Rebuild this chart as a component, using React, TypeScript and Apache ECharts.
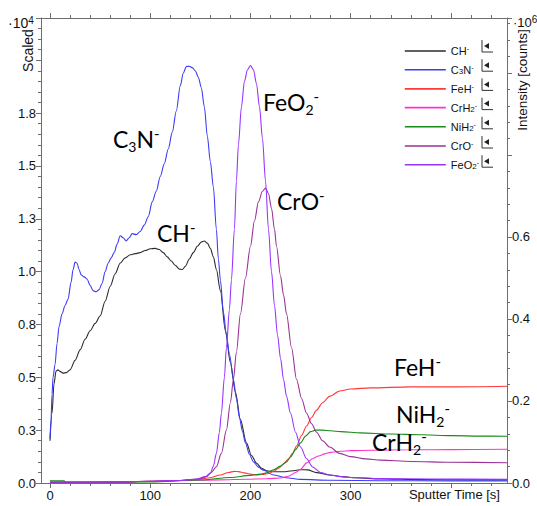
import React, { useEffect, useRef } from 'react';
import * as echarts from 'echarts';

// ---------- DATA (time in s, value in 10^4 on the scaled axis) ----------
const seriesNames = ['CH-', 'C3N-', 'FeH-', 'CrH2-', 'NiH2-', 'CrO-', 'FeO2-'];
const seriesColors = ['#2b2b2b', '#3c3cf5', '#ff3838', '#ff33cc', '#1a8a1a', '#993399', '#9933ff'];

const chData: [number, number][] = [
  [0, 0.2], [2, 0.33], [4, 0.47], [6, 0.53], [8, 0.535], [10, 0.528], [13, 0.52], [16, 0.522], [20, 0.535],
  [25, 0.58], [30, 0.63], [35, 0.68], [40, 0.72], [45, 0.755], [50, 0.79], [55, 0.86], [60, 0.93], [65, 0.99],
  [70, 1.04], [75, 1.065], [80, 1.08], [85, 1.085], [90, 1.09], [95, 1.1], [100, 1.108], [105, 1.11], [109, 1.105],
  [113, 1.09], [117, 1.07], [121, 1.05], [125, 1.03], [129, 1.012], [132, 1.01], [135, 1.025], [139, 1.06],
  [143, 1.09], [147, 1.12], [151, 1.14], [154, 1.145], [157, 1.135], [160, 1.11], [163, 1.07], [166, 1.01],
  [170, 0.91], [175, 0.72], [180, 0.57], [185, 0.43], [190, 0.3], [196, 0.19], [201, 0.13], [206, 0.094],
  [211, 0.07], [216, 0.058], [225, 0.053], [233, 0.053], [242, 0.058], [250, 0.063], [257, 0.062], [266, 0.049],
  [279, 0.038], [292, 0.03], [305, 0.025], [330, 0.019], [370, 0.016], [420, 0.015], [456, 0.015],
];

const c3nData: [number, number][] = [
  [0, 0.21], [1, 0.3], [2, 0.42], [3, 0.5], [5, 0.56], [7, 0.66], [9, 0.74], [12, 0.8], [15, 0.84], [18, 0.87],
  [21, 0.95], [23, 1.01], [25, 1.045], [27, 1.04], [29, 1.01], [31, 0.985], [34, 0.975], [37, 0.965], [40, 0.935],
  [43, 0.91], [46, 0.905], [49, 0.915], [52, 0.945], [55, 1.0], [58, 1.04], [61, 1.065], [64, 1.09], [67, 1.13],
  [70, 1.17], [73, 1.16], [76, 1.145], [79, 1.16], [82, 1.18], [86, 1.175], [90, 1.19], [94, 1.22], [98, 1.26],
  [102, 1.33], [106, 1.38], [110, 1.45], [114, 1.51], [118, 1.58], [122, 1.66], [126, 1.76], [130, 1.88],
  [133, 1.94], [136, 1.97], [139, 1.972], [142, 1.965], [145, 1.95], [148, 1.92], [151, 1.87], [154, 1.78],
  [157, 1.64], [160, 1.52], [163, 1.4], [166, 1.2], [168, 1.06], [170, 0.96], [173, 0.81], [176, 0.7],
  [179, 0.61], [183, 0.49], [186, 0.4], [189, 0.31], [192, 0.245], [195, 0.19], [199, 0.135], [203, 0.1],
  [208, 0.075], [213, 0.06], [223, 0.038], [235, 0.025], [250, 0.017], [280, 0.013], [330, 0.011], [400, 0.01],
  [456, 0.01],
];

const fehData: [number, number][] = [
  [0, 0.003], [60, 0.004], [100, 0.008], [130, 0.012], [145, 0.016], [160, 0.025], [170, 0.038], [178, 0.05],
  [184, 0.055], [188, 0.054], [194, 0.048], [200, 0.042], [206, 0.038], [212, 0.04], [218, 0.045], [223, 0.055],
  [228, 0.07], [233, 0.09], [238, 0.115], [242, 0.14], [246, 0.175], [251, 0.225], [256, 0.27], [261, 0.31],
  [266, 0.345], [272, 0.38], [279, 0.41], [289, 0.435], [300, 0.445], [320, 0.45], [360, 0.455], [400, 0.455],
  [456, 0.458],
];

const crh2Data: [number, number][] = [
  [0, 0.003], [70, 0.004], [130, 0.012], [170, 0.015], [196, 0.018], [216, 0.02], [230, 0.024], [238, 0.032],
  [245, 0.05], [250, 0.065], [256, 0.095], [262, 0.115], [268, 0.128], [274, 0.138], [280, 0.145], [290, 0.15],
  [300, 0.153], [320, 0.155], [360, 0.157], [400, 0.158], [456, 0.16],
];

const nih2Data: [number, number][] = [
  [0, 0.01], [14, 0.01], [16, 0.003], [100, 0.005], [150, 0.014], [180, 0.026], [200, 0.036], [210, 0.042],
  [216, 0.048], [223, 0.062], [230, 0.08], [236, 0.1], [240, 0.123], [245, 0.158], [250, 0.19], [255, 0.222],
  [260, 0.243], [265, 0.25], [272, 0.25], [280, 0.247], [290, 0.243], [310, 0.237], [340, 0.232], [370, 0.228],
  [400, 0.224], [430, 0.222], [456, 0.221],
];

const croData: [number, number][] = [
  [0, 0.003], [70, 0.004], [100, 0.008], [130, 0.012], [150, 0.02], [156, 0.03], [161, 0.05], [166, 0.077],
  [171, 0.14], [176, 0.25], [180, 0.38], [183, 0.49], [186, 0.62], [190, 0.8], [195, 0.97], [200, 1.12],
  [204, 1.24], [208, 1.33], [212, 1.38], [215, 1.395], [218, 1.37], [221, 1.3], [224, 1.2], [226, 1.12],
  [230, 0.98], [233, 0.89], [236, 0.8], [241, 0.64], [246, 0.49], [251, 0.4], [256, 0.33], [261, 0.28],
  [266, 0.24], [272, 0.2], [279, 0.17], [289, 0.14], [300, 0.125], [315, 0.114], [330, 0.108], [360, 0.102],
  [400, 0.098], [456, 0.096],
];

const feo2Data: [number, number][] = [
  [0, 0.005], [60, 0.005], [100, 0.008], [130, 0.012], [145, 0.018], [155, 0.03], [160, 0.047], [163, 0.08],
  [166, 0.14], [169, 0.24], [171, 0.33], [174, 0.5], [176, 0.64], [179, 0.82], [181, 0.96], [184, 1.2],
  [186, 1.43], [188, 1.6], [191, 1.78], [194, 1.9], [197, 1.955], [200, 1.975], [203, 1.955], [206, 1.89],
  [209, 1.78], [212, 1.63], [215, 1.43], [218, 1.2], [221, 1.0], [224, 0.84], [227, 0.7], [230, 0.59],
  [233, 0.49], [236, 0.41], [240, 0.33], [245, 0.24], [250, 0.17], [256, 0.115], [262, 0.076], [270, 0.05],
  [279, 0.038], [290, 0.03], [300, 0.026], [330, 0.021], [380, 0.019], [456, 0.018],
];

const allData = [chData, c3nData, fehData, crh2Data, nih2Data, croData, feo2Data];

// axes
const xMin = -9;
const xMax = 456;
const xMajorTicks = [0, 100, 200, 300, 400];
const xTickLabels = [0, 100, 200, 300];
const xMinorTicks = [20, 40, 60, 80, 120, 140, 160, 180, 220, 240, 260, 280, 320, 340, 360, 380, 420, 440];
const leftMax = 2.2;
const leftInterval = 0.25;
const leftLabelMax = 1.75;
const rightMax = 1.134;
const rightInterval = 0.2;
const rightLabelMax = 0.6;

// legend rich labels: [base, subscript, after subscript]
const legendParts: Record<string, [string, string, string]> = {
  'CH-': ['CH', '', ''],
  'C3N-': ['C', '3', 'N'],
  'FeH-': ['FeH', '', ''],
  'CrH2-': ['CrH', '2', ''],
  'NiH2-': ['NiH', '2', ''],
  'CrO-': ['CrO', '', ''],
  'FeO2-': ['FeO', '2', ''],
};

// in-plot annotations: main, subscript, text after subscript
const annotations = [
  { parts: ['C', '3', 'N'], x: 113, y: 139 },
  { parts: ['FeO', '2', ''], x: 263, y: 102 },
  { parts: ['CrO', '', ''], x: 277, y: 201 },
  { parts: ['CH', '', ''], x: 157, y: 233 },
  { parts: ['FeH', '', ''], x: 394, y: 367 },
  { parts: ['NiH', '2', ''], x: 396, y: 414 },
  { parts: ['CrH', '2', ''], x: 372, y: 442 },
];

const AXIS_COLOR = '#6e6e6e';
const LABEL_FONT = 'Liberation Sans, Arial, sans-serif';
const ANN_FONT = 'Lato, Open Sans, sans-serif';

export default function App() {
  const ref = useRef<HTMLDivElement>(null);

  useEffect(() => {
    if (!ref.current) return;
    const chart = echarts.init(ref.current, undefined, { renderer: 'svg' });

    const axisLine = { show: true, onZero: false, lineStyle: { color: AXIS_COLOR, width: 1 } };
    const tickStyle = { color: AXIS_COLOR, width: 1 };
    const labelStyle = { fontFamily: LABEL_FONT, fontSize: 13, color: '#111' };

    const fmt = (interval: number, maxLabel: number) => (v: number) => {
      const k = v / interval;
      return Math.abs(k - Math.round(k)) < 1e-6 && v <= maxLabel + 1e-6 ? v.toFixed(1) : '';
    };

    const xBase = { type: 'value' as const, min: xMin, max: xMax, splitLine: { show: false } };

    const legendTop = 40;
    const legendPitch = 19.2;
    const legendItemH = 12;

    const graphics: any[] = [];
    annotations.forEach((a) => {
      const [m, s, after] = a.parts;
      let text = `{m|${m}}`;
      if (s) text += `{s|${s}}`;
      if (after) text += `{m|${after}}`;
      text += `{p|-}`;
      graphics.push({
        type: 'text',
        x: a.x,
        y: a.y,
        z: 100,
        style: {
          text,
          align: 'left',
          verticalAlign: 'middle',
          rich: {
            m: { fontFamily: ANN_FONT, fontSize: 23, lineHeight: 28, fill: '#000' },
            s: { fontFamily: ANN_FONT, fontSize: 14, lineHeight: 14, verticalAlign: 'bottom', fill: '#000' },
            p: { fontFamily: ANN_FONT, fontSize: 15, lineHeight: 15, verticalAlign: 'top', fill: '#000' },
          },
        },
      });
    });

    // legend side icons
    seriesNames.forEach((_, i) => {
      const yc = legendTop + legendItemH / 2 + i * legendPitch;
      graphics.push(
        { type: 'line', shape: { x1: 482, y1: yc - 6, x2: 482, y2: yc + 6 }, style: { stroke: '#333', lineWidth: 1 } },
        { type: 'line', shape: { x1: 482, y1: yc + 6, x2: 493, y2: yc + 6 }, style: { stroke: '#333', lineWidth: 1 } },
        { type: 'polygon', shape: { points: [[484, yc], [489, yc - 3], [489, yc + 3]] }, style: { fill: '#222' } },
      );
    });

    const expRich = (size: number) => ({
      a: { fontFamily: LABEL_FONT, fontSize: size, lineHeight: 16, fill: '#111' },
      b: { fontFamily: LABEL_FONT, fontSize: 10, lineHeight: 10, verticalAlign: 'top', fill: '#111' },
    });

    graphics.push(
      { type: 'text', x: 8, y: 23, style: { text: '{a|·10}{b|4}', verticalAlign: 'middle', rich: expRich(14) } },
      {
        type: 'text', x: 27.5, y: 50.5, rotation: Math.PI / 2,
        style: { text: 'Scaled', fontFamily: LABEL_FONT, fontSize: 14, fill: '#111', align: 'center', verticalAlign: 'middle' },
      },
      { type: 'text', x: 513, y: 22, style: { text: '{a|·10}{b|6}', verticalAlign: 'middle', rich: expRich(13) } },
      {
        type: 'text', x: 522.5, y: 80, rotation: Math.PI / 2,
        style: { text: 'Intensity [counts]', fontFamily: LABEL_FONT, fontSize: 13.5, fill: '#111', align: 'center', verticalAlign: 'middle' },
      },
      {
        type: 'text', x: 500, y: 494,
        style: { text: 'Sputter Time [s]', fontFamily: LABEL_FONT, fontSize: 13, fill: '#111', align: 'right', verticalAlign: 'middle' },
      },
    );

    const option: any = {
      animation: false,
      backgroundColor: '#fff',
      grid: { left: 41, right: 30, top: 18, bottom: 23, containLabel: false },
      xAxis: [
        {
          ...xBase, position: 'bottom', axisLine,
          axisTick: { show: true, customValues: xMajorTicks, length: 5, lineStyle: tickStyle },
          axisLabel: { show: true, customValues: xTickLabels, margin: 6, ...labelStyle },
        },
        {
          ...xBase, position: 'bottom', axisLine: { show: false, onZero: false },
          axisTick: { show: true, customValues: xMinorTicks, length: 3, lineStyle: tickStyle },
          axisLabel: { show: false },
        },
        {
          ...xBase, position: 'top', axisLine,
          axisTick: { show: true, customValues: xMajorTicks, length: 5, lineStyle: tickStyle },
          axisLabel: { show: false },
        },
        {
          ...xBase, position: 'top', axisLine: { show: false, onZero: false },
          axisTick: { show: true, customValues: xMinorTicks, length: 3, lineStyle: tickStyle },
          axisLabel: { show: false },
        },
      ],
      yAxis: [
        {
          type: 'value', position: 'left', min: 0, max: leftMax, interval: leftInterval,
          axisLine, splitLine: { show: false },
          axisTick: { show: true, length: 5, lineStyle: tickStyle },
          minorTick: { show: true, splitNumber: 5, length: 3, lineStyle: tickStyle },
          axisLabel: { show: true, margin: 5, formatter: fmt(leftInterval, leftLabelMax), ...labelStyle },
        },
        {
          type: 'value', position: 'right', min: 0, max: rightMax, interval: rightInterval,
          axisLine, splitLine: { show: false },
          axisTick: { show: true, length: 5, lineStyle: tickStyle },
          minorTick: { show: true, splitNumber: 5, length: 3, lineStyle: tickStyle },
          axisLabel: { show: true, margin: 5, formatter: fmt(rightInterval, rightLabelMax), ...labelStyle },
        },
      ],
      legend: {
        orient: 'vertical',
        left: 399,
        top: legendTop,
        itemWidth: 41,
        itemHeight: legendItemH,
        itemGap: legendPitch - legendItemH,
        data: seriesNames,
        itemStyle: { opacity: 0 },
        lineStyle: { width: 1.6 },
        formatter: (name: string) => {
          const [b, s, after] = legendParts[name];
          return `{b|${b}}` + (s ? `{s|${s}}` : '') + (after ? `{b|${after}}` : '') + `{p|-}`;
        },
        textStyle: {
          fontFamily: LABEL_FONT, fontSize: 11, color: '#111',
          rich: {
            b: { fontFamily: LABEL_FONT, fontSize: 11, lineHeight: 12, color: '#111' },
            s: { fontFamily: LABEL_FONT, fontSize: 8, lineHeight: 8, verticalAlign: 'bottom', color: '#111' },
            p: { fontFamily: LABEL_FONT, fontSize: 7, lineHeight: 7, verticalAlign: 'top', color: '#111' },
          },
        },
      },
      series: seriesNames.map((name, i) => ({
        name,
        type: 'line',
        xAxisIndex: 0,
        yAxisIndex: 0,
        data: allData[i],
        symbol: 'none',
        showSymbol: false,
        smooth: 0.3,
        smoothMonotone: 'x',
        color: seriesColors[i],
        lineStyle: { width: 1.1, color: seriesColors[i] },
        z: 2 + i,
      })),
      graphic: graphics,
    };

    chart.setOption(option);
    return () => chart.dispose();
  }, []);

  return (
    <div
      ref={ref}
      style={{ position: 'fixed', left: 0, top: 0, width: 537, height: 506, background: '#fff' }}
    />
  );
}
